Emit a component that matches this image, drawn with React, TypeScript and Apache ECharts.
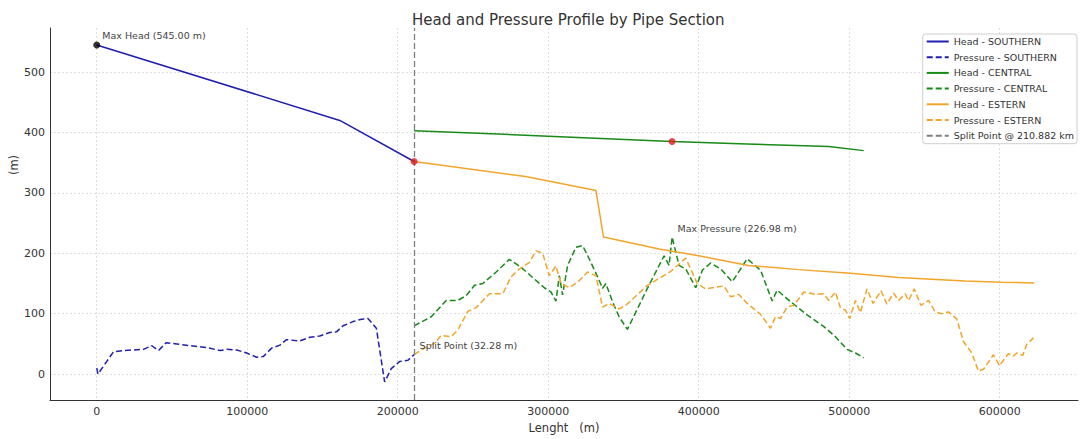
import React, { useEffect, useRef } from "react";
import * as echarts from "echarts";

// ---------- data ----------
const X_TICKS = [0, 100000, 200000, 300000, 400000, 500000, 600000];
const Y_TICKS = [0, 100, 200, 300, 400, 500];
const SPLIT_X = 210882;

const headSouthern = [
  [0, 545], [161500, 420], [210882, 352],
];
const pressureSouthern = [
  [0, 10], [800, 0], [11100, 37], [17800, 39], [31000, 41], [36600, 47], [41000, 39],
  [46100, 52], [53200, 50], [62000, 47], [73100, 44], [81900, 39], [86300, 41],
  [93000, 40], [99600, 35], [106200, 28], [110600, 29], [116200, 43], [121700, 48],
  [126100, 57], [134900, 55], [141600, 61], [148200, 63], [154800, 69], [159300, 70],
  [163700, 80], [170300, 87], [175900, 91], [180200, 92], [185800, 76], [191300, -13],
  [195700, 9], [201300, 21], [206800, 23], [210882, 32.28],
];
const headCentral = [
  [210882, 403], [300000, 394], [382300, 385], [432000, 381], [486400, 377], [509600, 370],
];
const pressureCentral = [
  [210882, 80], [222300, 95], [232200, 122], [239900, 122], [245500, 130], [251000, 147],
  [256500, 150], [265400, 169], [274200, 190], [281900, 177], [297400, 143], [301800, 136],
  [305100, 121], [307400, 163], [309500, 131], [312900, 180], [318400, 210], [322800, 213],
  [327200, 191], [332800, 161], [336100, 142], [338300, 150], [342700, 120], [347100, 95],
  [352600, 74], [365900, 142], [377000, 196], [380300, 180], [382300, 226.98], [386900, 180],
  [391400, 174], [398000, 143], [402400, 172], [407900, 184], [414600, 174], [422300, 153],
  [432200, 191], [441100, 172], [448800, 121], [452100, 139], [461000, 120], [472000, 98],
  [483000, 79], [490800, 62], [498500, 41], [504100, 35], [509600, 27],
];
const headEstern = [
  [210882, 352], [285000, 327], [331700, 304], [336700, 227], [373700, 207], [400000, 196],
  [433000, 180], [466500, 173], [500800, 167], [532800, 160], [577000, 154], [601000, 152],
  [623000, 151],
];
const pressureEstern = [
  [210882, 32.28], [217800, 43], [224500, 51], [228900, 64], [235500, 62], [239900, 73],
  [246600, 104], [252100, 110], [260900, 133], [269800, 133], [275300, 161], [280800, 174],
  [287500, 185], [291900, 204], [296300, 200], [300700, 163], [305100, 179], [308500, 150],
  [314000, 143], [319500, 152], [326100, 169], [331700, 163], [336100, 111], [340500, 117],
  [347100, 108], [351600, 114], [365900, 147], [381400, 170], [391400, 192], [399000, 150],
  [404600, 141], [416800, 146], [421200, 128], [426700, 132], [432200, 117], [441100, 99],
  [447700, 76], [451000, 95], [454300, 92], [458700, 111], [463200, 114], [469800, 136],
  [477600, 132], [483000, 133], [486400, 122], [490800, 136], [494200, 109], [497500, 106],
  [500300, 92], [504100, 122], [507400, 102], [511800, 141], [515800, 117], [521100, 138],
  [525000, 116], [529500, 134], [532800, 122], [537200, 133], [539400, 122], [543200, 141],
  [547600, 114], [552700, 122], [557100, 103], [561500, 100], [565900, 103], [571500, 91],
  [575900, 54], [581400, 35], [585800, 5], [589200, 8], [595800, 32], [599800, 14],
  [605700, 34], [609100, 30], [611300, 35], [615300, 31], [617900, 49], [622400, 60],
];

// ---------- derived points ----------
const maxHeadPt = headSouthern.reduce((a, b) => (b[1] > a[1] ? b : a));
const splitPressurePt = pressureSouthern[pressureSouthern.length - 1];
const splitHeadPt = headSouthern[headSouthern.length - 1];
const maxPressurePt = pressureCentral.reduce((a, b) => (b[1] > a[1] ? b : a));
const centralHeadAtMax = headCentral.find((p) => p[0] === maxPressurePt[0]) || headCentral[0];

const FONT = "DejaVu Sans";
const BLUE = "#2020b0";
const GREEN = "#178a17";
const ORANGE = "#f2a52a";
const DASH = [6, 3];

function lineSeries(name: string, data: number[][], color: string, dashed: boolean) {
  return {
    name,
    type: "line",
    data,
    showSymbol: false,
    symbol: "none",
    lineStyle: { color, width: 1.5, type: dashed ? DASH : "solid" },
    itemStyle: { color },
    z: 3,
  };
}

const axisLabelStyle = { color: "#333", fontSize: 11, fontFamily: FONT };
const gridLine = { show: true, lineStyle: { color: "#d6d6d6", width: 0.8, type: [2, 2] } };

export default function App() {
  const ref = useRef<HTMLDivElement>(null);
  useEffect(() => {
    if (!ref.current) return;
    const chart = echarts.init(ref.current, null, { renderer: "svg" });
    const option: any = {
      animation: false,
      backgroundColor: "#fff",
      title: {
        text: "Head and Pressure Profile by Pipe Section",
        left: 407,
        top: 7,
        textStyle: { fontFamily: FONT, fontSize: 15, fontWeight: "normal", color: "#333" },
      },
      grid: { left: 50, right: 2, top: 28, bottom: 36, containLabel: false },
      xAxis: {
        type: "value",
        min: -31050,
        max: 652000,
        name: "Lenght   (m)",
        nameLocation: "middle",
        nameGap: 18,
        nameTextStyle: { fontFamily: FONT, fontSize: 11.5, color: "#333" },
        axisLine: { show: true, onZero: false, lineStyle: { color: "#333", width: 1 } },
        axisTick: { show: false, customValues: X_TICKS },
        axisLabel: { ...axisLabelStyle, margin: 6, customValues: X_TICKS, formatter: (v: number) => String(v) },
        splitLine: gridLine,
      },
      yAxis: {
        type: "value",
        min: -43,
        max: 573,
        axisLine: { show: true, onZero: false, lineStyle: { color: "#333", width: 1 } },
        axisTick: { show: false, customValues: Y_TICKS },
        axisLabel: { ...axisLabelStyle, margin: 5, customValues: Y_TICKS, formatter: (v: number) => String(v) },
        splitLine: gridLine,
      },
      legend: {
        orient: "vertical",
        right: 3,
        top: 34,
        itemWidth: 22,
        itemHeight: 10,
        itemGap: 5.7,
        padding: [2.5, 3, 3, 3],
        backgroundColor: "#fff",
        borderColor: "#cfcfcf",
        borderWidth: 1,
        borderRadius: 3,
        itemStyle: { color: "rgba(0,0,0,0)", borderWidth: 0, borderColor: "rgba(0,0,0,0)" },
        textStyle: { fontFamily: FONT, fontSize: 9.5, color: "#333", lineHeight: 10 },
        data: [
          "Head - SOUTHERN",
          "Pressure - SOUTHERN",
          "Head - CENTRAL",
          "Pressure - CENTRAL",
          "Head - ESTERN",
          "Pressure - ESTERN",
          "Split Point @ 210.882 km",
        ],
      },
      graphic: [
        {
          type: "text",
          x: 14,
          y: 165,
          rotation: Math.PI / 2,
          style: {
            text: "(m)",
            fontFamily: FONT,
            fontSize: 11.5,
            fill: "#333",
            textAlign: "center",
            textVerticalAlign: "middle",
          },
        },
      ],
      series: [
        lineSeries("Head - SOUTHERN", headSouthern, BLUE, false),
        lineSeries("Pressure - SOUTHERN", pressureSouthern, BLUE, true),
        lineSeries("Head - CENTRAL", headCentral, GREEN, false),
        lineSeries("Pressure - CENTRAL", pressureCentral, GREEN, true),
        lineSeries("Head - ESTERN", headEstern, ORANGE, false),
        lineSeries("Pressure - ESTERN", pressureEstern, ORANGE, true),
        {
          name: "Split Point @ 210.882 km",
          type: "line",
          data: [],
          symbol: "none",
          lineStyle: { color: "#7f7f7f", width: 1.3, type: DASH },
          itemStyle: { color: "#7f7f7f" },
          markLine: {
            silent: true,
            symbol: "none",
            label: { show: false },
            lineStyle: { color: "#7f7f7f", width: 1.3, type: DASH },
            data: [{ xAxis: SPLIT_X }],
          },
          z: 2,
        },
        {
          name: "markers",
          type: "scatter",
          symbolSize: 7,
          z: 5,
          data: [
            { value: maxHeadPt, itemStyle: { color: "#000" } },
            { value: splitHeadPt, itemStyle: { color: "#e41a1a" } },
            { value: centralHeadAtMax, itemStyle: { color: "#e41a1a" } },
          ],
        },
        {
          name: "annotations",
          type: "scatter",
          symbolSize: 1,
          itemStyle: { color: "rgba(0,0,0,0)" },
          z: 6,
          label: {
            show: true,
            position: "right",
            distance: 5,
            offset: [0, -9],
            fontFamily: FONT,
            fontSize: 9.5,
            color: "#444",
            opacity: 1,
          },
          data: [
            { value: maxHeadPt, label: { formatter: `Max Head (${maxHeadPt[1].toFixed(2)} m)` } },
            { value: splitPressurePt, label: { formatter: `Split Point (${splitPressurePt[1].toFixed(2)} m)` } },
            { value: maxPressurePt, label: { formatter: `Max Pressure (${maxPressurePt[1].toFixed(2)} m)` } },
          ],
        },
      ],
    };
    chart.setOption(option);
    return () => chart.dispose();
  }, []);
  return (
    <div
      ref={ref}
      style={{ position: "fixed", left: 0, top: 0, width: 1080, height: 439, background: "#fff" }}
    />
  );
}
